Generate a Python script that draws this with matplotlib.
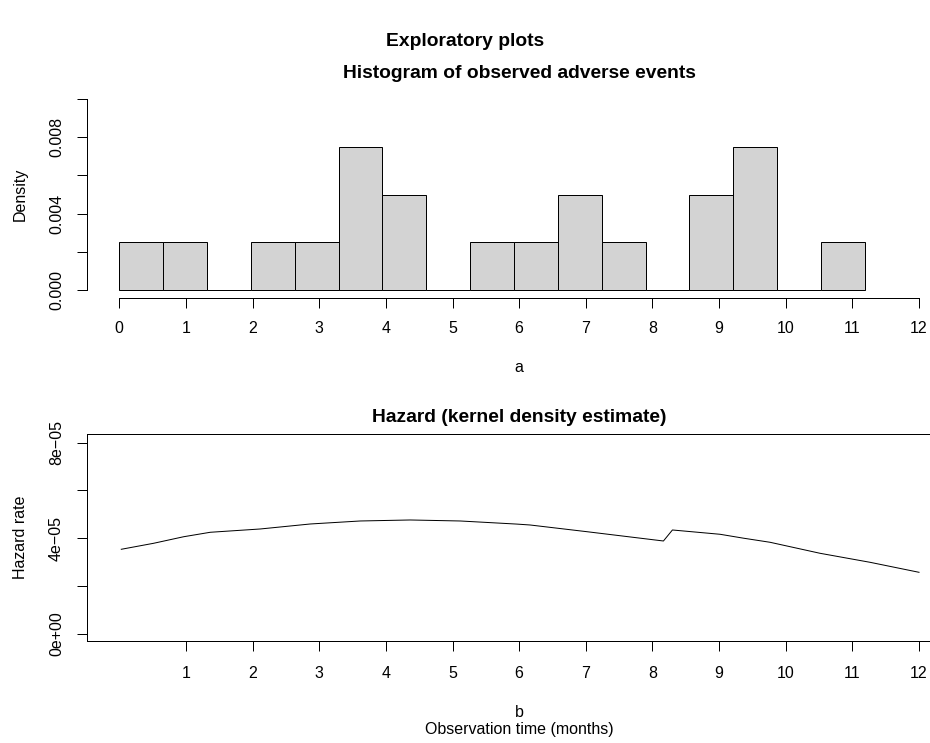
import matplotlib
matplotlib.use("Agg")
import matplotlib.pyplot as plt
import numpy as np

plt.rcParams['font.family'] = ['Liberation Sans', 'DejaVu Sans']
plt.rcParams['font.size'] = 12

## histogram data (density per bin, bins of equal width starting at 0)
bin_width = 0.658
density = [0.0025, 0.0025, 0.0, 0.0025, 0.0025, 0.0075, 0.005, 0.0,
           0.0025, 0.0025, 0.005, 0.0025, 0.0, 0.005, 0.0075, 0.0, 0.0025]
hist_xticks = list(range(0, 13))
hist_yticks = [0.0, 0.002, 0.004, 0.006, 0.008, 0.010]
hist_ylabels = ["0.000", "", "0.004", "", "0.008", ""]

## hazard curve
haz_time = [0.03, 0.515, 0.965, 1.365, 2.115, 2.865, 3.615, 4.365, 5.115,
            5.965, 6.165, 7.015, 8.165, 8.30, 9.015, 9.365, 9.765, 10.515,
            11.265, 12.0]
haz_rate = [3.535e-5, 3.786e-5, 4.06e-5, 4.247e-5, 4.385e-5, 4.594e-5,
            4.720e-5, 4.762e-5, 4.720e-5, 4.59e-5, 4.552e-5, 4.272e-5,
            3.882e-5, 4.343e-5, 4.163e-5, 4.00e-5, 3.828e-5, 3.367e-5,
            2.990e-5, 2.571e-5]
haz_xticks = list(range(1, 13))
haz_yticks = [0.0, 2e-5, 4e-5, 6e-5, 8e-5]
haz_ylabels = ["0e+00", "", "4e\u221205", "", "8e\u221205"]

W, H = 930, 743
fig = plt.figure(figsize=(W / 96, H / 96), dpi=96)

def px_axes(left, top, right, bottom):
    return fig.add_axes([left / W, 1 - bottom / H, (right - left) / W, (bottom - top) / H])

tick_kw = dict(length=7.5, width=0.75, colors='black', labelsize=12)

## top: histogram
ax1 = px_axes(87.3, 91.4, 951, 297.6)
lefts = np.arange(len(density)) * bin_width
ax1.bar(lefts, density, width=bin_width, align='edge', color='#D3D3D3',
        edgecolor='black', linewidth=0.75)
ax1.set_xlim(-0.48, 12.48)
ax1.set_ylim(-0.0004, 0.0104)
for s in ['top', 'right']:
    ax1.spines[s].set_visible(False)
ax1.spines['left'].set_bounds(0, 0.010)
ax1.spines['bottom'].set_bounds(0, 12)
for s in ['left', 'bottom']:
    ax1.spines[s].set_linewidth(0.75)
ax1.set_xticks(hist_xticks)
ax1.set_yticks(hist_yticks)
ax1.set_yticklabels(hist_ylabels, rotation=90, va='center')
ax1.tick_params(axis='x', pad=10, **tick_kw)
ax1.tick_params(axis='y', pad=10, **tick_kw)
ax1.set_ylabel("Density", labelpad=16)
ax1.set_xlabel("a", labelpad=18)
ax1.set_title("Histogram of observed adverse events", fontsize=14.4,
              fontweight='bold', pad=10)

## bottom: hazard
ax2 = px_axes(87.3, 434.3, 951, 641)
ax2.plot(haz_time, haz_rate, color='black', linewidth=0.75)
ax2.set_xlim(-0.48, 12.48)
ax2.set_ylim(-3.06e-6, 8.35e-5)
for s in ax2.spines.values():
    s.set_linewidth(0.75)
ax2.set_xticks(haz_xticks)
ax2.set_yticks(haz_yticks)
ax2.set_yticklabels(haz_ylabels, rotation=90, va='center')
ax2.tick_params(axis='x', pad=11, **tick_kw)
ax2.tick_params(axis='y', pad=10, **tick_kw)
ax2.set_ylabel("Hazard rate", labelpad=16)
ax2.set_xlabel("b\nObservation time (months)", labelpad=18.5, linespacing=1.15)
ax2.set_title("Hazard (kernel density estimate)", fontsize=14.4,
              fontweight='bold', pad=9)

fig.text(465 / W, 1 - 41 / H, "Exploratory plots", ha='center', va='center',
         fontsize=14.4, fontweight='bold')

fig.savefig("out.png", dpi=96)
